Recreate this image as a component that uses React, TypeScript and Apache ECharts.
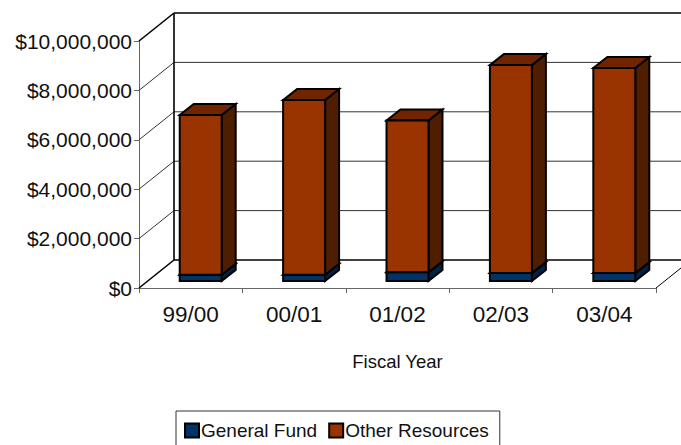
import React, { useEffect, useRef } from "react";
import * as echarts from "echarts";

const categories = ["99/00", "00/01", "01/02", "02/03", "03/04"];
const generalFund = [250000, 250000, 350000, 320000, 320000];
const otherResources = [6470000, 7080000, 6150000, 8420000, 8300000];
const axisTicks = [0, 2000000, 4000000, 6000000, 8000000, 10000000];

const FONT = "Liberation Sans";
const DEPTH_X = 35;
const DEPTH_Y = 28;
const BAR_DX = 14;
const BAR_DY = 11;
const SHIFT_X = 10;
const SHIFT_Y = -7;

const barRenderer = (front: string, top: string, side: string) => (params: any, api: any) => {
  const i = api.value(0);
  const low = api.coord([i, api.value(1)]);
  const high = api.coord([i, api.value(2)]);
  const w = api.size([1, 0])[0] * 0.406;
  const x0 = low[0] - w / 2 + SHIFT_X;
  const x1 = x0 + w;
  const y0 = low[1] + SHIFT_Y;
  const y1 = high[1] + SHIFT_Y;
  const style = { stroke: "#000", lineWidth: 2, lineJoin: "miter" };
  return {
    type: "group",
    children: [
      {
        type: "polygon",
        shape: { points: [[x1, y0], [x1 + BAR_DX, y0 - BAR_DY], [x1 + BAR_DX, y1 - BAR_DY], [x1, y1]] },
        style: { fill: side, ...style },
      },
      {
        type: "polygon",
        shape: { points: [[x0, y1], [x0 + BAR_DX, y1 - BAR_DY], [x1 + BAR_DX, y1 - BAR_DY], [x1, y1]] },
        style: { fill: top, ...style },
      },
      { type: "rect", shape: { x: x0, y: y1, width: w, height: y0 - y1 }, style: { fill: front, ...style } },
    ],
  };
};

const wallRenderer = (params: any, api: any) => {
  const v = api.value(0);
  const y = api.coord([0, v])[1];
  const cs = params.coordSys;
  const left = cs.x;
  const right = cs.x + cs.width;
  const isTop = v === axisTicks[axisTicks.length - 1];
  const isBottom = v === 0;
  const dark = isTop || isBottom;
  const lineStyle = { stroke: dark ? "#000" : "#333", lineWidth: dark ? 1.6 : 1, fill: "none" };
  const children: any[] = [
    { type: "line", shape: { x1: left, y1: y, x2: left + DEPTH_X, y2: y - DEPTH_Y }, style: lineStyle },
    { type: "line", shape: { x1: left + DEPTH_X, y1: y - DEPTH_Y, x2: right + DEPTH_X, y2: y - DEPTH_Y }, style: lineStyle },
  ];
  if (isTop) {
    children.push({
      type: "line",
      shape: { x1: left + DEPTH_X, y1: y - DEPTH_Y, x2: left + DEPTH_X, y2: cs.y + cs.height - DEPTH_Y },
      style: { stroke: "#000", lineWidth: 1.6 },
    });
  }
  if (isBottom) {
    children.push({
      type: "line",
      shape: { x1: right, y1: y, x2: right + DEPTH_X, y2: y - DEPTH_Y },
      style: { stroke: "#000", lineWidth: 1 },
    });
  }
  return { type: "group", children };
};

export default function App() {
  const ref = useRef<HTMLDivElement>(null);
  useEffect(() => {
    const chart = echarts.init(ref.current!, undefined, { renderer: "svg" });
    const sum = generalFund.map((v) => v);
    chart.setOption({
      animation: false,
      backgroundColor: "#fff",
      grid: { left: 139, right: 25, top: 41, bottom: 157, containLabel: false },
      legend: {
        data: ["General Fund", "Other Resources"],
        left: 176,
        top: 411,
        orient: "horizontal",
        icon: "rect",
        itemWidth: 14,
        itemHeight: 14,
        itemGap: 11,
        padding: [10, 11, 6, 8],
        borderColor: "#333",
        borderWidth: 1,
        textStyle: { fontFamily: FONT, fontSize: 19, color: "#111", padding: [0, 0, 0, -3] },
      },
      xAxis: {
        type: "category",
        data: categories,
        name: "Fiscal Year",
        nameLocation: "middle",
        nameGap: 64,
        nameTextStyle: { fontFamily: FONT, fontSize: 18.5, color: "#111" },
        axisLine: { lineStyle: { color: "#666", width: 1 } },
        axisTick: { show: true, alignWithLabel: false, length: 5, lineStyle: { color: "#666" } },
        axisLabel: { fontFamily: FONT, fontSize: 22.5, color: "#111", margin: 15 },
      },
      yAxis: {
        type: "value",
        min: 0,
        max: 10000000,
        interval: 2000000,
        axisLine: { show: true, lineStyle: { color: "#666", width: 1 } },
        axisTick: { show: true, length: 5, lineStyle: { color: "#666" } },
        splitLine: { show: false },
        axisLabel: {
          fontFamily: FONT,
          fontSize: 21,
          color: "#111",
          margin: 7,
          padding: [0, 0, 2, 0],
          formatter: (v: number) => "$" + v.toLocaleString("en-US"),
        },
      },
      series: [
        {
          type: "custom",
          name: "wall",
          silent: true,
          clip: false,
          z: 1,
          data: axisTicks.map((v) => [v]),
          encode: { y: 0 },
          renderItem: wallRenderer,
        },
        {
          type: "custom",
          name: "General Fund",
          clip: false,
          z: 2,
          itemStyle: { color: "#003366", borderColor: "#000", borderWidth: 2 },
          data: generalFund.map((v, i) => [i, 0, v]),
          encode: { x: 0, y: [1, 2] },
          renderItem: barRenderer("#003366", "#00254a", "#002244"),
        },
        {
          type: "custom",
          name: "Other Resources",
          clip: false,
          z: 3,
          itemStyle: { color: "#993300", borderColor: "#000", borderWidth: 2 },
          data: otherResources.map((v, i) => [i, sum[i], sum[i] + v]),
          encode: { x: 0, y: [1, 2] },
          renderItem: barRenderer("#993300", "#702500", "#4f1e00"),
        },
      ],
    });
    return () => chart.dispose();
  }, []);
  return <div ref={ref} style={{ position: "fixed", left: 0, top: 0, width: 681, height: 445 }} />;
}
